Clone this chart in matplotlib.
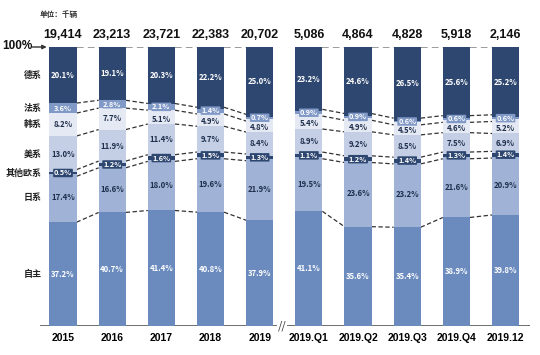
import matplotlib
matplotlib.use("Agg")
import matplotlib.pyplot as plt
import numpy as np

plt.rcParams['font.family'] = ['Noto Sans CJK SC', 'DejaVu Sans']

periods = ['2015', '2016', '2017', '2018', '2019',
           '2019.Q1', '2019.Q2', '2019.Q3', '2019.Q4', '2019.12']
totals = [19414, 23213, 23721, 22383, 20702, 5086, 4864, 4828, 5918, 2146]

# 从下往上
series = ['自主', '日系', '其他欧系', '美系', '韩系', '法系', '德系']
zizhu = [37.2, 40.7, 41.4, 40.8, 37.9, 41.1, 35.6, 35.4, 38.9, 39.8]
rixi = [17.4, 16.6, 18.0, 19.6, 21.9, 19.5, 23.6, 23.2, 21.6, 20.9]
qitaou = [0.5, 1.2, 1.6, 1.5, 1.3, 1.1, 1.2, 1.4, 1.3, 1.4]
meixi = [13.0, 11.9, 11.4, 9.7, 8.4, 8.9, 9.2, 8.5, 7.5, 6.9]
hanxi = [8.2, 7.7, 5.1, 4.9, 4.8, 5.4, 4.9, 4.5, 4.6, 5.2]
faxi = [3.6, 2.8, 2.1, 1.4, 0.7, 0.9, 0.9, 0.6, 0.6, 0.6]
dexi = [20.1, 19.1, 20.3, 22.2, 25.0, 23.2, 24.6, 26.5, 25.6, 25.2]

data = [zizhu, rixi, qitaou, meixi, hanxi, faxi, dexi]
colors = ['#6b8bbf', '#a0b3d6', '#2e4770', '#c4cfe5', '#e4e9f3', '#8099c6', '#2e4770']
text_colors = ['white', '#1f2f4d', 'white', '#1f2f4d', '#1f2f4d', 'white', 'white']
boxed = [False, False, True, False, False, True, False]

fig = plt.figure(figsize=(5.4, 3.55), dpi=100)
ax = fig.add_axes([40 / 540, 29 / 355, 490 / 540, 279 / 355])
x = np.arange(len(periods))
w = 0.55
ax.set_xlim((40 - 63) / 49.17, (530 - 63) / 49.17)
ax.set_ylim(0, 100)
for s in ax.spines.values():
    s.set_visible(False)
ax.set_yticks([])
ax.set_xticks(x)
ax.set_xticklabels(periods, fontsize=7.5, fontweight='bold', family=['Liberation Sans', 'DejaVu Sans'])
ax.tick_params(axis='x', length=0, pad=5)
ax.axhline(0, color='#555555', lw=1.2)

bottoms = np.zeros(len(periods))
# 每段的上下边界（小段用标签框的边）
lower_edges = []
upper_edges = []
for k, vals in enumerate(data):
    vals = np.array(vals)
    ax.bar(x, vals, w, bottom=bottoms, color=colors[k], zorder=2)
    mids = bottoms + vals / 2
    for i in range(len(x)):
        txt = f'{vals[i]:.1f}%'
        if boxed[k]:
            ax.text(x[i], mids[i], txt, ha='center', va='center', fontsize=5.3,
                    fontweight='bold', color=text_colors[k], zorder=4,
                    bbox=dict(boxstyle='round,pad=0.1', fc=colors[k], ec='none'))
        else:
            ty = mids[i]
            if series[k] == '韩系' and vals[i] < 6:
                ty = mids[i] - 0.8
            ax.text(x[i], ty, txt, ha='center', va='center', fontsize=5.6,
                    fontweight='bold', color=text_colors[k], zorder=3)
    if boxed[k]:
        half = np.maximum(vals / 2, 1.2)
        lower_edges.append(mids - half)
        upper_edges.append(mids + half)
    else:
        lower_edges.append(bottoms.copy())
        upper_edges.append(bottoms + vals)
    # 左侧系列名
    ax.text(-0.43, mids[0], series[k], ha='right', va='center', fontsize=6.5,
            fontweight='bold', color='#222222', clip_on=False)
    bottoms = bottoms + vals

# 连接虚线
levels = []
for k in range(len(data) - 1):
    if boxed[k + 1]:
        levels.append(lower_edges[k + 1])
        levels.append(upper_edges[k + 1])
    elif not boxed[k]:
        levels.append(upper_edges[k])
for i in range(len(x) - 1):
    if i == 4:
        continue
    for lv in levels:
        ax.plot([x[i] + w / 2, x[i + 1] - w / 2], [lv[i], lv[i + 1]],
                ls=(0, (3.5, 2)), color='#333333', lw=0.9, zorder=1)
    ax.plot([x[i] + w / 2, x[i + 1] - w / 2], [100, 100],
            ls=(0, (4, 2.5)), color='#8a8a8a', lw=1.2, zorder=1)

# 总量
for i in range(len(x)):
    ax.text(x[i], 102, f'{totals[i]:,}', ha='center', va='bottom', fontsize=9,
            fontweight='bold', color='#111111', clip_on=False,
            family=['Liberation Sans', 'DejaVu Sans'])

# 100% 箭头
fig.text(2 / 540, 1 - 46 / 355, '100%', ha='left', va='center', fontsize=8.5,
         fontweight='bold', color='#111111', family=['Liberation Sans', 'DejaVu Sans'])
ax.annotate('', xy=(x[0] - w / 2, 100), xytext=(-0.68, 100),
            arrowprops=dict(arrowstyle='-|>', color='#333333', lw=1, mutation_scale=6),
            annotation_clip=False)

# 断轴记号
ax.text(4.45, 0, '//', ha='center', va='center', fontsize=8, color='#333333',
        clip_on=False, zorder=5, bbox=dict(fc='white', ec='none', pad=0.5))

fig.text(40 / 540, 1 - 15 / 355, '单位：千辆', ha='left', va='center', fontsize=5.5,
         fontweight='bold', color='#333333')

fig.savefig('out.png', dpi=100, facecolor='white')
